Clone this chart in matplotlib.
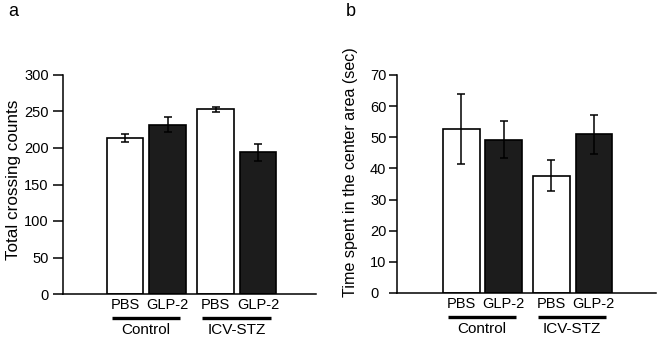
import numpy as np
import matplotlib.pyplot as plt

plt.rcParams["font.family"] = ["Liberation Sans", "DejaVu Sans"]

# =========================
# Data
# =========================
bar_labels = ["PBS", "GLP-2", "PBS", "GLP-2"]
group_labels = ["Control", "ICV-STZ"]
bar_colors = ["white", "#1c1c1c", "white", "#1c1c1c"]

crossing_mean = [214, 232, 253, 194]
crossing_err = [5.5, 10.5, 3.5, 11.5]

center_mean = [52.6, 49.2, 37.7, 50.9]
center_err = [11.2, 6.0, 5.1, 6.2]

positions = np.array([0.0, 1.0, 2.13, 3.13])
bar_width = 0.86


def draw_panel(ax, means, errs, ymax, ystep, ylabel, ylabel_size, xlim,
               label_y, label_x, tick_len, tick_pad, tick_ha):
    ax.bar(positions, means, width=bar_width, color=bar_colors,
           edgecolor="black", linewidth=1.2, zorder=2)
    ax.errorbar(positions, means, yerr=errs, fmt="none", ecolor="black",
                elinewidth=1.1, capsize=3, capthick=1.1, zorder=3)

    ax.set_xlim(*xlim)
    ax.set_ylim(0, ymax)
    ax.set_yticks(np.arange(0, ymax + 1, ystep))
    ax.set_xticks([])

    ax.spines["top"].set_visible(False)
    ax.spines["right"].set_visible(False)
    ax.spines["left"].set_linewidth(1.1)
    ax.spines["bottom"].set_linewidth(1.1)
    ax.tick_params(axis="y", length=tick_len, width=1.1, labelsize=10.5,
                   pad=tick_pad)
    for t in ax.get_yticklabels():
        t.set_horizontalalignment(tick_ha)
    ax.set_ylabel(ylabel, fontsize=ylabel_size)
    # label's right edge sits at label_x (axes fraction)
    ax.yaxis.set_label_coords(label_x, label_y)

    trans = ax.get_xaxis_transform()
    for x, lab in zip(positions, bar_labels):
        ax.text(x, -0.05, lab, transform=trans, ha="center", va="center",
                fontsize=10.5)
    for i, g in enumerate(group_labels):
        x0 = positions[2 * i] - 0.31
        x1 = positions[2 * i + 1] + 0.29
        ax.plot([x0, x1], [-0.111, -0.111], transform=trans, color="black",
                linewidth=2.4, clip_on=False, solid_capstyle="butt")
        ax.text((x0 + x1) / 2, -0.166, g, transform=trans, ha="center",
                va="center", fontsize=11)


fig = plt.figure(figsize=(6.58, 3.38), dpi=100)

ax_a = fig.add_axes([63 / 658, 44 / 338, 253 / 658, 219 / 338])
draw_panel(ax_a, crossing_mean, crossing_err, 300, 50,
           "Total crossing counts", 12.3, (-1.46, 4.49),
           0.52, -42 / 253, 7.2, 3, "right")

ax_b = fig.add_axes([397 / 658, 45 / 338, 259 / 658, 218 / 338])
draw_panel(ax_b, center_mean, center_err, 70, 10,
           "Time spent in the center area (sec)", 11.6, (-1.52, 4.6),
           0.555, -39 / 259, 5.8, 13.6, "left")

fig.text(8 / 658, 1 - 11 / 338, "a", fontsize=13, va="center", ha="left")
fig.text(346 / 658, 1 - 11 / 338, "b", fontsize=13, va="center", ha="left")

fig.savefig("out.png", dpi=100)
